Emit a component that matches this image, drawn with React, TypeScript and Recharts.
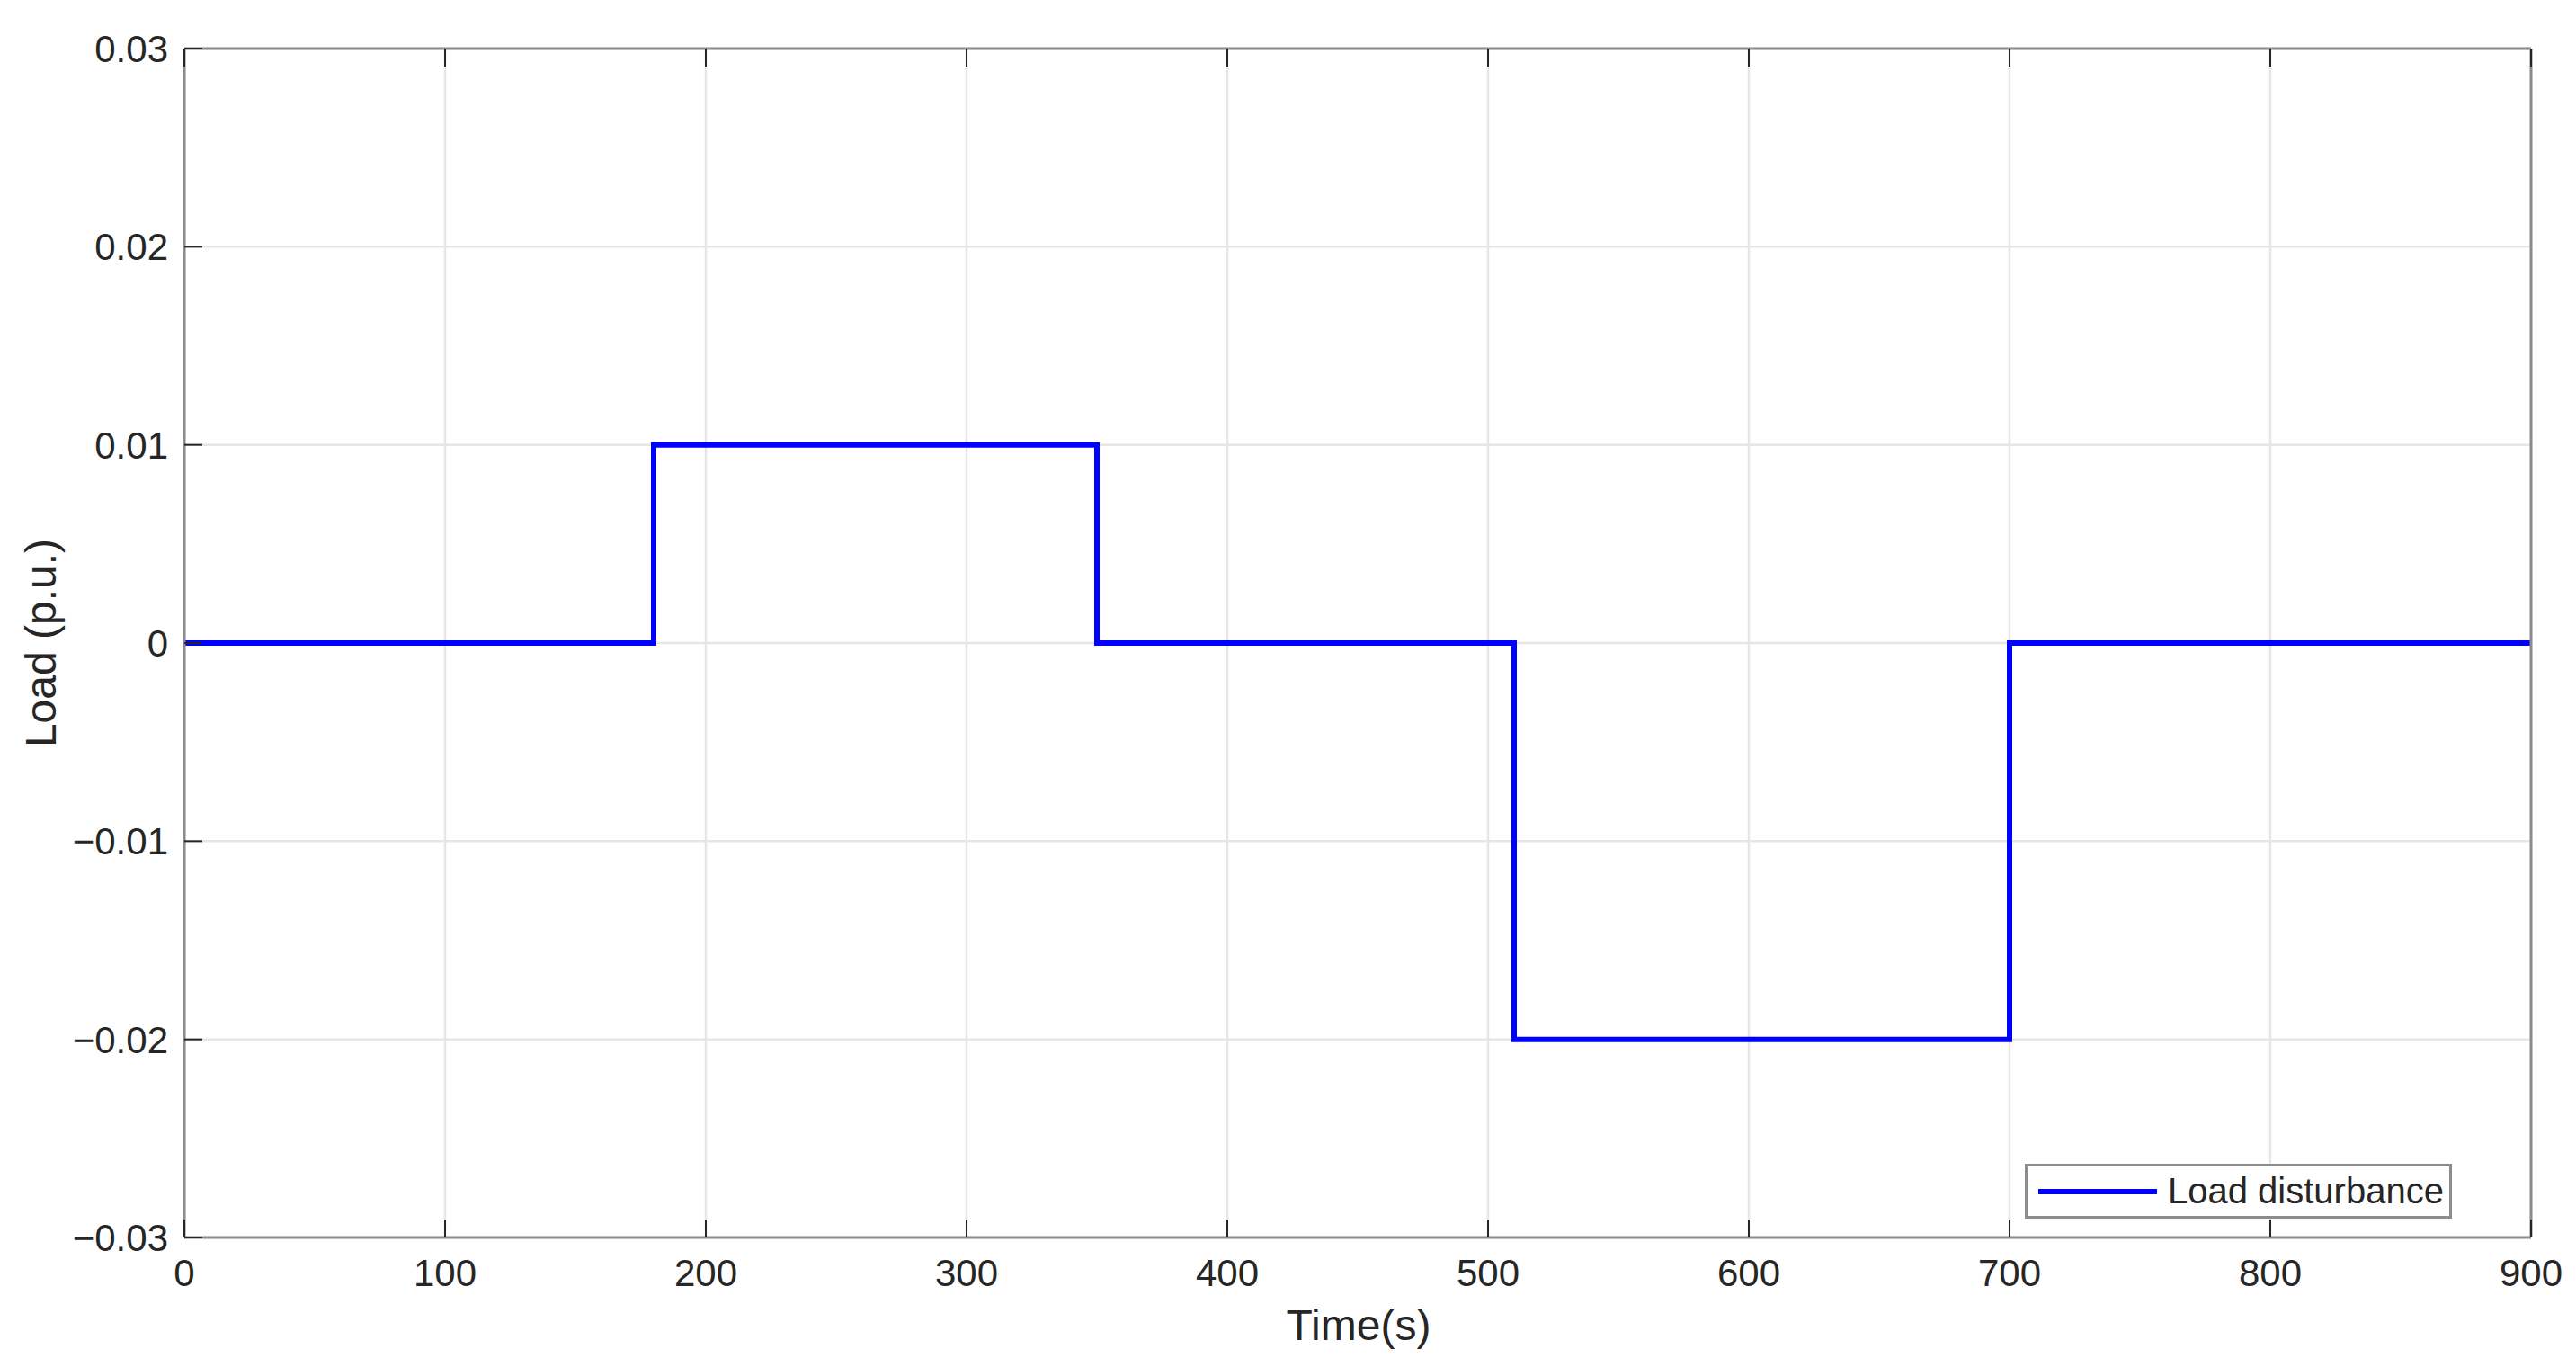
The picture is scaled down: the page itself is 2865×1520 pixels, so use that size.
import { LineChart, Line, XAxis, YAxis, CartesianGrid } from 'recharts';

const times = [0, 180, 350, 510, 700, 900];
const loads = [0, 0.01, 0, -0.02, 0, 0];
const xTicks = [0, 100, 200, 300, 400, 500, 600, 700, 800, 900];
const yTicks = [-0.03, -0.02, -0.01, 0, 0.01, 0.02, 0.03];

const FONT = '"Liberation Sans", Arial, sans-serif';
const TEXT = '#262626';
const BOX = '#8c8c8c';
const TICK_LEN = 20;

const formatY = (v: number) => {
  if (v === 0) return '0';
  return (v < 0 ? '\u2212' : '') + Math.abs(v).toFixed(2);
};

const BottomTick = ({ x, y, payload }: any) => (
  <g>
    <line x1={x} x2={x} y1={y} y2={y - TICK_LEN} stroke={TEXT} strokeWidth={2} />
    <text x={x} y={y + 54} textAnchor="middle" fontSize={42} fontFamily={FONT} fill={TEXT}>
      {payload.value}
    </text>
  </g>
);

const TopTick = ({ x, y }: any) => (
  <line x1={x} x2={x} y1={y} y2={y + TICK_LEN} stroke={TEXT} strokeWidth={2} />
);

const LeftTick = ({ x, y, payload }: any) => (
  <g>
    <line x1={x} x2={x + TICK_LEN} y1={y} y2={y} stroke={TEXT} strokeWidth={2} />
    <text x={x - 18} y={y + 15} textAnchor="end" fontSize={42} fontFamily={FONT} fill={TEXT}>
      {formatY(payload.value)}
    </text>
  </g>
);

const RightTick = ({ x, y }: any) => (
  <line x1={x} x2={x - TICK_LEN} y1={y} y2={y} stroke={TEXT} strokeWidth={2} />
);

export default function App() {
  const data = times.map((t, i) => ({ t, load: loads[i] }));

  return (
    <div style={{ position: 'absolute', left: 0, top: 0, width: 2865, height: 1520, background: '#fff' }}>
      <LineChart
        width={2865}
        height={1520}
        data={data}
        margin={{ top: 53, right: 49, bottom: 143, left: 204 }}
      >
        <CartesianGrid stroke="#e6e6e6" strokeWidth={2.5} />
        <XAxis
          dataKey="t"
          type="number"
          domain={[0, 900]}
          ticks={xTicks}
          interval={0}
          height={1}
          tickSize={0}
          tickMargin={0}
          tick={<BottomTick />}
          axisLine={{ stroke: BOX, strokeWidth: 3 }}
        />
        <XAxis
          xAxisId="top"
          orientation="top"
          dataKey="t"
          type="number"
          domain={[0, 900]}
          ticks={xTicks}
          interval={0}
          height={1}
          tickSize={0}
          tickMargin={0}
          tick={<TopTick />}
          axisLine={{ stroke: BOX, strokeWidth: 3 }}
        />
        <YAxis
          type="number"
          domain={[-0.03, 0.03]}
          ticks={yTicks}
          interval={0}
          width={1}
          tickSize={0}
          tickMargin={0}
          tick={<LeftTick />}
          axisLine={{ stroke: BOX, strokeWidth: 3 }}
        />
        <YAxis
          yAxisId="right"
          orientation="right"
          type="number"
          domain={[-0.03, 0.03]}
          ticks={yTicks}
          interval={0}
          width={1}
          tickSize={0}
          tickMargin={0}
          tick={<RightTick />}
          axisLine={{ stroke: BOX, strokeWidth: 3 }}
        />
        <Line
          type="stepAfter"
          dataKey="load"
          stroke="#0000ff"
          strokeWidth={6}
          dot={false}
          activeDot={false}
          isAnimationActive={false}
        />
      </LineChart>

      {/* axis titles */}
      <svg
        width={2865}
        height={1520}
        style={{ position: 'absolute', left: 0, top: 0, pointerEvents: 'none' }}
      >
        <text x={1511} y={1490} textAnchor="middle" fontSize={48} fontFamily={FONT} fill={TEXT}>
          Time(s)
        </text>
        <text
          x={62}
          y={715}
          textAnchor="middle"
          fontSize={48}
          fontFamily={FONT}
          fill={TEXT}
          transform="rotate(-90, 62, 715)"
        >
          Load (p.u.)
        </text>
      </svg>

      {/* legend */}
      <div
        style={{
          position: 'absolute',
          left: 2252,
          top: 1294,
          width: 475,
          height: 61,
          boxSizing: 'border-box',
          border: `3px solid ${BOX}`,
          background: '#fff',
        }}
      >
        <svg width={469} height={55} style={{ display: 'block' }}>
          <line x1={12} x2={144} y1={28} y2={28} stroke="#0000ff" strokeWidth={6} />
          <text x={156} y={41} fontSize={40} fontFamily={FONT} fill={TEXT}>
            Load disturbance
          </text>
        </svg>
      </div>
    </div>
  );
}
